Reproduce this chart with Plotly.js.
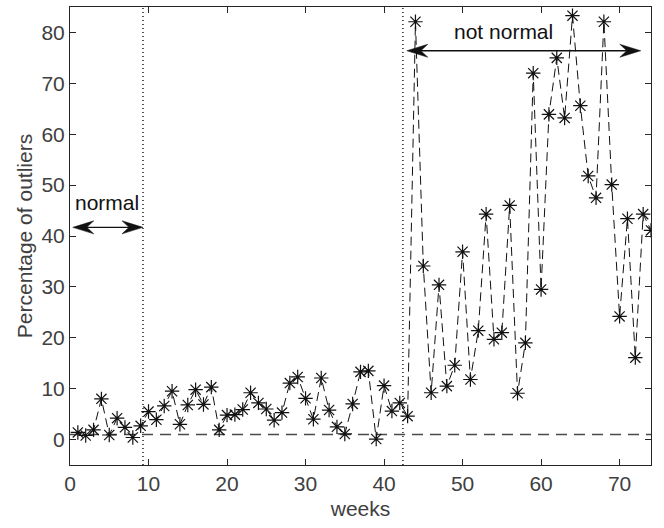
<!DOCTYPE html>
<html>
<head>
<meta charset="utf-8">
<script src="https://cdn.plot.ly/plotly-3.0.1.min.js"></script>
<style>html,body{margin:0;padding:0;background:#fff;}#chart{width:664px;height:528px;}</style>
</head>
<body>
<div id="chart"></div>
<script>
// ---- data ----
const weeks = [1,2,3,4,5,6,7,8,9,10,11,12,13,14,15,16,17,18,19,20,21,22,23,24,25,26,27,28,29,30,31,32,33,34,35,36,37,38,39,40,41,42,43,44,45,46,47,48,49,50,51,52,53,54,55,56,57,58,59,60,61,62,63,64,65,66,67,68,69,70,71,72,73,74];
const outlierPct = [1.4,0.8,1.9,8.0,0.9,4.2,2.4,0.4,2.7,5.5,3.9,6.6,9.5,3.0,6.8,9.8,6.9,10.3,1.9,4.8,4.9,5.9,9.2,7.2,6.0,3.8,5.3,11.1,12.3,8.1,4.0,12.1,5.8,2.5,1.1,7.0,13.3,13.5,0.1,10.6,5.6,7.2,4.6,82.1,34.1,9.2,30.4,10.5,14.6,36.9,11.8,21.4,44.3,19.7,21.0,46.0,9.1,19.0,72.0,29.5,63.9,75.0,63.2,83.3,65.6,51.8,47.5,82.1,50.1,24.2,43.4,16.1,44.3,41.1];
const thresholdX = [0, 74];
const thresholdY = [1, 1];
const phaseBounds = [9.3, 42.4];          // dotted separators
const normalArrow = {x0: 0.35, x1: 9.3, y: 41.7, label: 'normal', lx: 4.7, ly: 46.6};
const notNormalArrow = {x0: 42.9, x1: 72.7, y: 76.4, label: 'not normal', lx: 55.2, ly: 80.1};
const xTicks = [0,10,20,30,40,50,60,70];
const yTicks = [0,10,20,30,40,50,60,70,80];

const FONT = 'Liberation Sans, Arial, Helvetica, sans-serif';
const AX = '#262626';
const TXT = '#404040';

const traces = [
  {x: thresholdX, y: thresholdY, mode: 'lines', hoverinfo: 'skip',
   line: {color: '#4a4a4a', width: 1.6, dash: '11px,7px'}, showlegend: false},
  {x: weeks, y: outlierPct, mode: 'lines+markers', showlegend: false,
   line: {color: '#111', width: 1, dash: '9px,5px'},
   marker: {symbol: 'asterisk-open', size: 12, color: '#111', line: {width: 1.2, color: '#111'}}}
];

function arrowHead(x, y, dir) {
  // dir: +1 pointing right, -1 pointing left; drawn in pixel units around anchor
  const L = 21, W = 6.5, N = 14;
  const p = `M0,0 L${-dir*L},${W} L${-dir*N},0 L${-dir*L},${-W} Z`;
  return {type: 'path', xref: 'x', yref: 'y', xsizemode: 'pixel', ysizemode: 'pixel',
          xanchor: x, yanchor: y, path: p, fillcolor: '#111', line: {color: '#111', width: 0.5}};
}

const shapes = [];
phaseBounds.forEach(b => shapes.push({type: 'line', xref: 'x', yref: 'paper', x0: b, x1: b, y0: 0, y1: 1,
  line: {color: '#111', width: 1.4, dash: '1px,3px'}}));
[normalArrow, notNormalArrow].forEach(a => {
  shapes.push({type: 'line', xref: 'x', yref: 'y', x0: a.x0 + 0.8, x1: a.x1 - 0.8, y0: a.y, y1: a.y,
               line: {color: '#111', width: 1.3}});
  shapes.push(arrowHead(a.x0, a.y, -1));
  shapes.push(arrowHead(a.x1, a.y, 1));
});

const annotations = [normalArrow, notNormalArrow].map(a => ({
  x: a.lx, y: a.ly, xref: 'x', yref: 'y', text: a.label, showarrow: false,
  font: {family: FONT, size: 21, color: '#111'}
}));

const axisCommon = {
  ticks: 'inside', ticklen: 6, tickwidth: 1, tickcolor: AX,
  showline: true, linecolor: AX, linewidth: 1, mirror: 'ticks',
  showgrid: false, zeroline: false,
  tickfont: {family: FONT, size: 21, color: TXT}
};

const layout = {
  width: 664, height: 528,
  margin: {l: 70, r: 13, t: 7, b: 63},
  paper_bgcolor: '#fff', plot_bgcolor: '#fff',
  xaxis: Object.assign({}, axisCommon, {range: [0, 74], tickvals: xTicks,
    title: {text: 'weeks', font: {family: FONT, size: 21, color: TXT}, standoff: 7}}),
  yaxis: Object.assign({}, axisCommon, {range: [-5, 85], tickvals: yTicks,
    title: {text: 'Percentage of outliers', font: {family: FONT, size: 21, color: TXT}, standoff: 3}}),
  shapes: shapes,
  annotations: annotations,
  showlegend: false
};

Plotly.newPlot('chart', traces, layout, {displayModeBar: false, staticPlot: true});
</script>
</body>
</html>
